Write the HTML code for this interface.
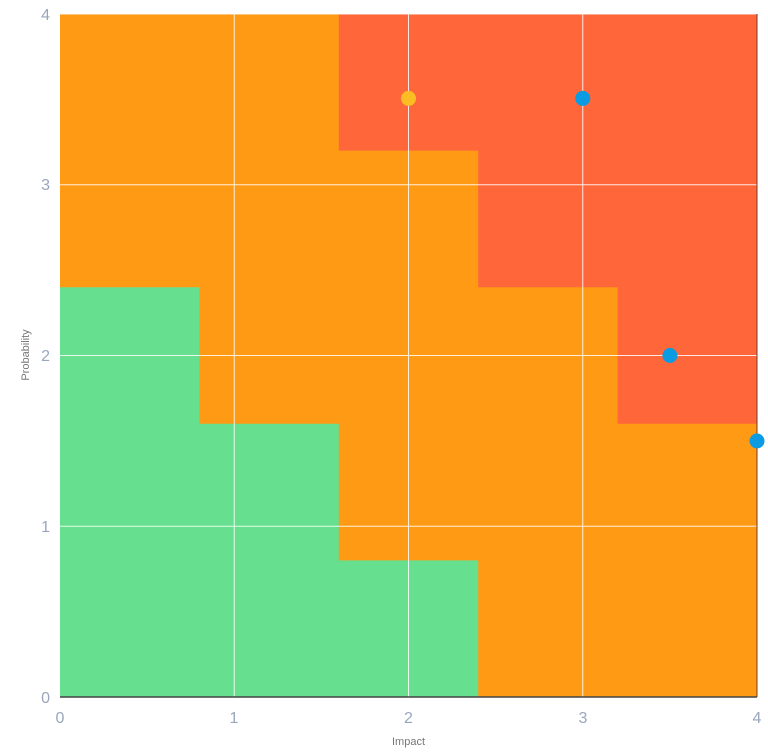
<!DOCTYPE html>
<html><head><meta charset="utf-8"><style>
html,body{margin:0;padding:0;background:#fff;width:768px;height:752px;overflow:hidden}
text{font-family:"Liberation Sans",sans-serif;fill:#9aa6bd}
</style></head><body>
<svg width="768" height="752" viewBox="0 0 768 752" xmlns="http://www.w3.org/2000/svg">
<rect x="60" y="14" width="697" height="683" fill="#ff9a14"/>
<polygon fill="#66e08e" points="60,697 60,287.2 199.4,287.2 199.4,423.8 338.8,423.8 338.8,560.4 478.2,560.4 478.2,697"/>
<polygon fill="#ff673a" points="338.8,14 757,14 757,423.8 617.6,423.8 617.6,287.2 478.2,287.2 478.2,150.6 338.8,150.6"/>
<g stroke="#ffffff" stroke-width="1" opacity="0.85">
<line x1="234.25" y1="14" x2="234.25" y2="697"/>
<line x1="408.5" y1="14" x2="408.5" y2="697"/>
<line x1="582.75" y1="14" x2="582.75" y2="697"/>
<line x1="60" y1="526.25" x2="757" y2="526.25"/>
<line x1="60" y1="355.5" x2="757" y2="355.5"/>
<line x1="60" y1="184.75" x2="757" y2="184.75"/>
<line x1="60" y1="14" x2="757" y2="14"/>
</g>
<line x1="60" y1="697" x2="757" y2="697" stroke="#444" stroke-width="1.5"/>
<line x1="757" y1="14" x2="757" y2="697" stroke="#7a3a20" stroke-width="1"/>
<circle cx="408.5" cy="98.4" r="7.5" fill="#fbbd23"/>
<circle cx="582.75" cy="98.4" r="7.5" fill="#0a9be3"/>
<circle cx="669.9" cy="355.5" r="7.5" fill="#0a9be3"/>
<circle cx="757" cy="441" r="7.5" fill="#0a9be3"/>
<g font-size="16" text-anchor="end">
<text x="50" y="703">0</text>
<text x="50" y="532">1</text>
<text x="50" y="361">2</text>
<text x="50" y="190">3</text>
<text x="50" y="20">4</text>
</g>
<g font-size="16" text-anchor="middle">
<text x="60" y="723">0</text>
<text x="234" y="723">1</text>
<text x="408.5" y="723">2</text>
<text x="583" y="723">3</text>
<text x="757" y="723">4</text>
</g>
<text x="408.5" y="745" font-size="11" text-anchor="middle" style="fill:#777">Impact</text>
<text x="0" y="0" font-size="11" text-anchor="middle" transform="translate(29,355) rotate(-90)" style="fill:#777">Probability</text>
</svg>
</body></html>
